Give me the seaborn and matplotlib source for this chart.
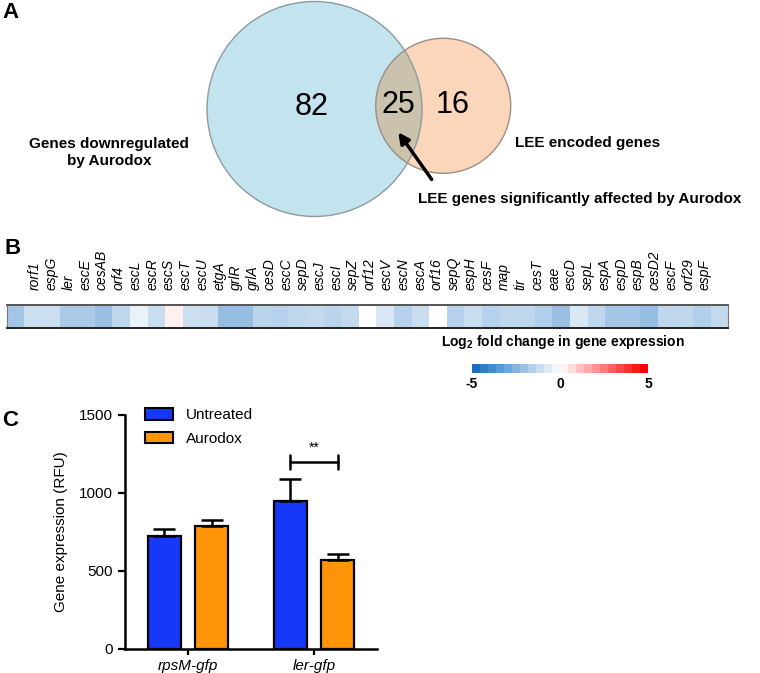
import numpy as np
import pandas as pd
import matplotlib
matplotlib.use("Agg")
import matplotlib.pyplot as plt
import seaborn as sns
from matplotlib.patches import Circle, Patch
from matplotlib.colors import LinearSegmentedColormap, Normalize
from matplotlib.cm import ScalarMappable

# ---- data ----
venn_counts = [82, 25, 16]  # downregulated only, overlap, LEE only

genes = ["rorf1", "espG", "ler", "escE", "cesAB", "orf4", "escL", "escR", "escS",
         "escT", "escU", "etgA", "grlR", "grlA", "cesD", "escC", "sepD", "escJ",
         "escI", "sepZ", "orf12", "escV", "escN", "escA", "orf16", "sepQ", "espH",
         "cesF", "map", "tir", "cesT", "eae", "escD", "sepL", "espA", "espD",
         "espB", "cesD2", "escF", "orf29", "espF"]
log2fc = [-2.0, -1.1, -1.1, -1.8, -1.8, -2.2, -1.4, -0.5, -1.2, 0.3,
          -1.1, -1.2, -2.3, -2.3, -1.5, -1.6, -1.4, -1.3, -1.5, -1.3,
          0.0, -0.8, -1.6, -1.2, 0.0, -1.6, -1.2, -1.6, -1.4, -1.4,
          -1.7, -2.2, -0.8, -1.4, -2.0, -2.0, -2.3, -1.4, -1.4, -1.7, -1.3]

reporters = ["rpsM-gfp", "ler-gfp"]
treatments = ["Untreated", "Aurodox"]
rfu_mean = {"Untreated": [725, 950], "Aurodox": [786, 568]}
rfu_sem = {"Untreated": [40, 135], "Aurodox": [37, 39]}

bar_colors = {"Untreated": "#1638f7", "Aurodox": "#ff9408"}

sns.set_theme(style="ticks")
plt.rcParams["font.family"] = ["Liberation Sans", "DejaVu Sans"]
plt.rcParams["mathtext.fontset"] = "custom"
plt.rcParams["mathtext.rm"] = "Liberation Sans"
plt.rcParams["mathtext.bf"] = "Liberation Sans:bold"
for key in ("text.color", "axes.labelcolor", "xtick.color", "ytick.color"):
    plt.rcParams[key] = "black"

W, H = 760, 673
fig = plt.figure(figsize=(W / 100, H / 100), dpi=100)

def fx(px):
    return px / W

def fy(py):
    return 1 - py / H

# ---- panel A: Venn diagram drawn in pixel space ----
ax_a = fig.add_axes([0, 0, 1, 1])
ax_a.set_xlim(0, W)
ax_a.set_ylim(H, 0)
ax_a.axis("off")
ax_a.patch.set_alpha(0)

left_c = Circle((314.5, 109), 107.5, facecolor="#c3e3ef", edgecolor="none")
right_c = Circle((443.2, 105.8), 67.5, facecolor="#fbd6ba", edgecolor="none")
ax_a.add_patch(left_c)
ax_a.add_patch(right_c)
lens = Circle((443.2, 105.8), 67.5, facecolor="#cbc2ad", edgecolor="none")
ax_a.add_patch(lens)
lens.set_clip_path(left_c)
ax_a.add_patch(Circle((314.5, 109), 107.5, fill=False, edgecolor="#8d9ba0", lw=1.0))
ax_a.add_patch(Circle((443.2, 105.8), 67.5, fill=False, edgecolor="#9a8f86", lw=1.0))

for txt, (x, y) in zip(venn_counts, [(311.7, 106.7), (398.3, 105), (452.7, 105)]):
    ax_a.text(x, y, str(txt), fontsize=22, ha="center", va="center")

ax_a.text(109, 152.5, "Genes downregulated\nby Aurodox", fontsize=11, fontweight="bold",
          ha="center", va="center", linespacing=1.2)
ax_a.text(515, 143.3, "LEE encoded genes", fontsize=11, fontweight="bold",
          ha="left", va="center")
ax_a.text(418, 199, "LEE genes significantly affected by Aurodox", fontsize=11,
          fontweight="bold", ha="left", va="center")
ax_a.annotate("", xy=(396.7, 130), xytext=(433.3, 181.7),
              arrowprops=dict(arrowstyle="-|>", lw=2.5, color="black", mutation_scale=16))

ax_a.text(2, 12, "A", fontsize=16, fontweight="bold", ha="left", va="center")
ax_a.text(4, 248, "B", fontsize=16, fontweight="bold", ha="left", va="center")
ax_a.text(2, 420, "C", fontsize=16, fontweight="bold", ha="left", va="center")

# ---- panel B: heatmap strip ----
cmap = LinearSegmentedColormap.from_list(
    "lfc", [(0, "#1a6fc0"), (0.5, "#ffffff"), (1, "#ff0000")])

ax_b = fig.add_axes([fx(6.7), fy(328.3), fx(721.6), 23.3 / H])
heat = pd.DataFrame([log2fc], columns=genes)
sns.heatmap(heat, ax=ax_b, cmap=cmap, vmin=-5, vmax=5, cbar=False,
            xticklabels=False, yticklabels=False)
for side, sp in ax_b.spines.items():
    sp.set_visible(True)
    sp.set_color("#222222" if side in ("top", "bottom") else "#777777")
    sp.set_linewidth(1.4 if side in ("top", "bottom") else 0.8)
ax_b.spines["top"].set_color("#555555")

# gene labels
ax_lab = fig.add_axes([fx(26.6), fy(290), fx(686.75), 0.0005])
ax_lab.set_xlim(-0.5, len(genes) - 0.5)
ax_lab.set_xticks(range(len(genes)))
ax_lab.set_xticklabels(genes, rotation=90, fontstyle="italic", fontsize=10)
ax_lab.xaxis.tick_top()
ax_lab.tick_params(axis="x", length=0, pad=0)
ax_lab.set_yticks([])
for sp in ax_lab.spines.values():
    sp.set_visible(False)
ax_lab.patch.set_alpha(0)

fig.text(fx(563), fy(341.7), r"Log$_\mathbf{2}$ fold change in gene expression",
         fontsize=10, fontweight="bold", ha="center", va="center")

cax = fig.add_axes([fx(471.7), fy(373.3), fx(176.6), 9 / H])
cb = fig.colorbar(ScalarMappable(norm=Normalize(-5, 5), cmap=cmap.resampled(22)),
                  cax=cax, orientation="horizontal", ticks=[-5, 0, 5])
cb.outline.set_visible(False)
cax.tick_params(length=0, pad=3, labelsize=10)
cax.set_xticklabels(["-5", "0", "5"], fontweight="bold")

# ---- panel C: bar chart ----
rows = []
for t in treatments:
    for i, r in enumerate(reporters):
        rows.append({"reporter": r, "treatment": t,
                     "rfu": rfu_mean[t][i], "sem": rfu_sem[t][i]})
df = pd.DataFrame(rows)

ax_c = fig.add_axes([fx(125), fy(648.7), fx(252), 234 / H])
sns.barplot(data=df, x="reporter", y="rfu", hue="treatment", order=reporters,
            hue_order=treatments, palette=bar_colors, saturation=1, width=0.75, gap=0.3,
            errorbar=None, edgecolor="black", linewidth=1.6, legend=False, ax=ax_c)

bars = sorted([p for p in ax_c.patches if p.get_height() > 0], key=lambda p: p.get_x())
ordered = df.assign(ri=df["reporter"].map(reporters.index),
                    ti=df["treatment"].map(treatments.index)).sort_values(["ri", "ti"])
for p, (_, row) in zip(bars, ordered.iterrows()):
    xc = p.get_x() + p.get_width() / 2
    ax_c.errorbar(xc, row["rfu"], yerr=[[0], [row["sem"]]], fmt="none",
                  ecolor="black", elinewidth=1.8, capsize=8, capthick=1.8, zorder=1)

# significance bracket over ler-gfp
xb = [b.get_x() + b.get_width() / 2 for b in bars[2:4]]
yb = 1195
ax_c.plot(xb, [yb, yb], color="black", lw=1.8)
for xv in xb:
    ax_c.plot([xv, xv], [yb - 45, yb + 45], color="black", lw=1.8)
ax_c.text(np.mean(xb), yb + 50, "**", ha="center", va="bottom", fontsize=10)

ax_c.set_ylim(0, 1500)
ax_c.set_xlim(-0.5, 1.5)
ax_c.set_yticks([0, 500, 1000, 1500])
ax_c.set_xlabel("")
ax_c.set_ylabel("Gene expression (RFU)", fontsize=11, labelpad=8)
ax_c.set_xticks(range(len(reporters)))
ax_c.set_xticklabels(reporters, fontstyle="italic", fontsize=11)
ax_c.tick_params(axis="y", labelsize=11, length=5, width=1.6, color="black")
ax_c.tick_params(axis="x", length=4, width=1.6, color="black")
sns.despine(ax=ax_c)
for side in ("left", "bottom"):
    ax_c.spines[side].set_linewidth(1.8)
    ax_c.spines[side].set_color("black")

handles = [Patch(facecolor=bar_colors[t], edgecolor="black", linewidth=1.5) for t in treatments]
ax_c.legend(handles, treatments, loc="upper left", bbox_to_anchor=(fx(145), fy(408)),
            bbox_transform=fig.transFigure, frameon=False, fontsize=11, borderpad=0,
            borderaxespad=0, handlelength=1.85, handleheight=0.8, handletextpad=0.85,
            labelspacing=0.63)

fig.savefig("out.png", dpi=100)
